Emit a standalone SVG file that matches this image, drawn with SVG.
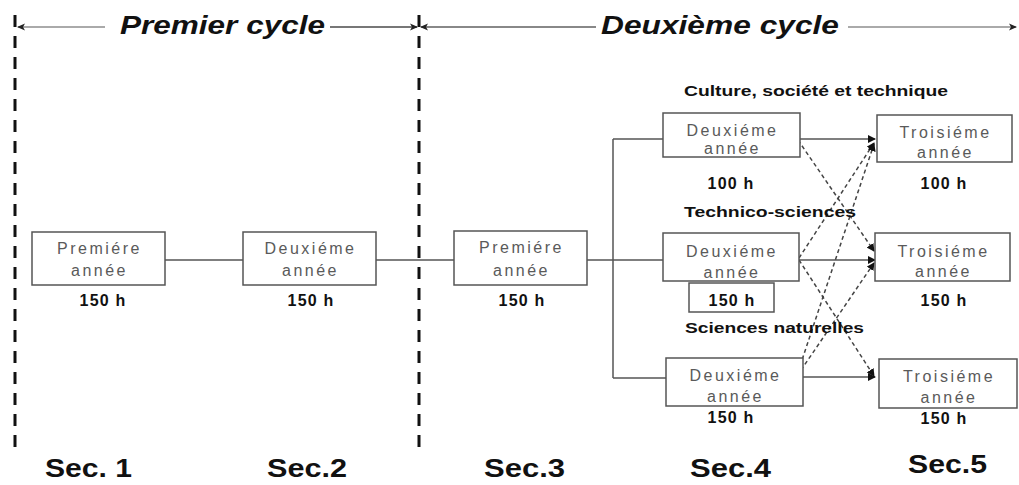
<svg xmlns="http://www.w3.org/2000/svg" width="1019" height="485" viewBox="0 0 1019 485">
<defs>
<style>
.box{fill:#fff;stroke:#555;stroke-width:1.5}
.bt{font-family:"Liberation Sans",Arial,sans-serif;font-size:16px;fill:#5a5a5a;letter-spacing:2.5px;text-anchor:middle}
.hrs{font-family:"Liberation Sans",Arial,sans-serif;font-size:16px;font-weight:bold;fill:#111;letter-spacing:1.2px;text-anchor:middle}
.lbl{font-family:"Liberation Sans",Arial,sans-serif;font-size:15px;font-weight:bold;fill:#111}
.sec{font-family:"Liberation Sans",Arial,sans-serif;font-size:25px;font-weight:bold;fill:#111}
.ttl{font-family:"Liberation Sans",Arial,sans-serif;font-size:25px;font-weight:bold;font-style:italic;fill:#111}
.ln{fill:none;stroke:#555;stroke-width:1.5}
.dash{fill:none;stroke:#444;stroke-width:1.5;stroke-dasharray:4 3}
.vdash{fill:none;stroke:#111;stroke-width:3;stroke-dasharray:12 9}
</style>
<marker id="ah" markerWidth="8" markerHeight="8" refX="7" refY="4" orient="auto" markerUnits="userSpaceOnUse">
<path d="M0,0 L8,4 L0,8 Z" fill="#111"/>
</marker>
<marker id="ta" markerWidth="8" markerHeight="8" refX="7" refY="4" orient="auto" markerUnits="userSpaceOnUse">
<path d="M0,0.5 L8,4 L0,7.5 L2,4 Z" fill="#222"/>
</marker>
</defs>
<rect width="1019" height="485" fill="#fff"/>

<g id="dividers">
<line class="vdash" x1="15" y1="15" x2="15" y2="450"/>
<line class="vdash" x1="419" y1="15" x2="419" y2="450"/>
</g>

<g id="titles">
<line x1="105" y1="27" x2="18" y2="27" stroke="#aaa" stroke-width="2" marker-end="url(#ta)"/>
<text class="ttl" x="120" y="34" textLength="205" lengthAdjust="spacingAndGlyphs">Premier cycle</text>
<line x1="330" y1="27" x2="417" y2="27" stroke="#777" stroke-width="2" marker-end="url(#ta)"/>
<line x1="596" y1="27" x2="421" y2="27" stroke="#888" stroke-width="2" marker-end="url(#ta)"/>
<text class="ttl" x="601" y="34" textLength="238" lengthAdjust="spacingAndGlyphs">Deuxième cycle</text>
<line x1="848" y1="27" x2="1016" y2="27" stroke="#aaa" stroke-width="2" marker-end="url(#ta)"/>
</g>

<g id="connectors">
<line class="ln" x1="165" y1="260" x2="243" y2="260"/>
<line class="ln" x1="376" y1="260" x2="454" y2="260"/>
<line class="ln" x1="587" y1="260" x2="613" y2="260"/>
<line class="ln" x1="613" y1="139" x2="613" y2="378"/>
<line class="ln" x1="613" y1="139" x2="663" y2="139"/>
<line class="ln" x1="613" y1="260" x2="663" y2="260"/>
<line class="ln" x1="613" y1="378" x2="666" y2="378"/>
<line class="ln" x1="800" y1="139" x2="875" y2="139" marker-end="url(#ah)"/>
<line class="ln" x1="799" y1="260" x2="875" y2="260" marker-end="url(#ah)"/>
<line class="ln" x1="803" y1="377" x2="875" y2="377" marker-end="url(#ah)"/>
<line class="dash" x1="798" y1="140" x2="874" y2="251" marker-end="url(#ah)"/>
<line class="dash" x1="799" y1="258" x2="874" y2="143" marker-end="url(#ah)"/>
<line class="dash" x1="799" y1="260" x2="874" y2="376" marker-end="url(#ah)"/>
<line class="dash" x1="800" y1="366" x2="874" y2="144" marker-end="url(#ah)"/>
<line class="dash" x1="797" y1="376" x2="874" y2="263" marker-end="url(#ah)"/>
</g>

<g id="s1">
<rect class="box" x="32" y="232" width="133" height="53"/>
<text class="bt" x="99.5" y="254">Premiére</text>
<text class="bt" x="99.5" y="276">année</text>
<text class="hrs" x="103" y="306">150 h</text>
</g>
<g id="s2">
<rect class="box" x="243" y="232" width="133" height="53"/>
<text class="bt" x="310.5" y="254">Deuxiéme</text>
<text class="bt" x="310.5" y="276">année</text>
<text class="hrs" x="311" y="306">150 h</text>
</g>
<g id="s3">
<rect class="box" x="454" y="231" width="133" height="54"/>
<text class="bt" x="521.5" y="253">Premiére</text>
<text class="bt" x="521.5" y="276">année</text>
<text class="hrs" x="522" y="306">150 h</text>
</g>

<g id="lbl-cst"><text class="lbl" x="684" y="96" textLength="264" lengthAdjust="spacingAndGlyphs">Culture, société et technique</text></g>
<g id="lbl-ts"><text class="lbl" x="684" y="217" textLength="172" lengthAdjust="spacingAndGlyphs">Technico-sciences</text></g>
<g id="lbl-sn"><text class="lbl" x="685" y="333" textLength="179" lengthAdjust="spacingAndGlyphs">Sciences naturelles</text></g>

<g id="s4a">
<rect class="box" x="663" y="113" width="137" height="44"/>
<text class="bt" x="732.5" y="136">Deuxiéme</text>
<text class="bt" x="732.5" y="154">année</text>
<text class="hrs" x="731" y="189">100 h</text>
</g>
<g id="s4b">
<rect class="box" x="663" y="233" width="136" height="48"/>
<text class="bt" x="732" y="257">Deuxiéme</text>
<text class="bt" x="732" y="278">année</text>
<rect class="box" x="689" y="283" width="85" height="29"/>
<text class="hrs" x="732" y="306">150 h</text>
</g>
<g id="s4c">
<rect class="box" x="666" y="358" width="137" height="48"/>
<text class="bt" x="735.5" y="381">Deuxiéme</text>
<text class="bt" x="735.5" y="402">année</text>
<text class="hrs" x="731" y="423">150 h</text>
</g>

<g id="s5a">
<rect class="box" x="877" y="115" width="135" height="47"/>
<text class="bt" x="945.5" y="138">Troisiéme</text>
<text class="bt" x="945.5" y="158">année</text>
<text class="hrs" x="944" y="189">100 h</text>
</g>
<g id="s5b">
<rect class="box" x="875" y="233" width="135" height="48"/>
<text class="bt" x="943.5" y="257">Troisiéme</text>
<text class="bt" x="943.5" y="277">année</text>
<text class="hrs" x="944" y="306">150 h</text>
</g>
<g id="s5c">
<rect class="box" x="879" y="359" width="138" height="49"/>
<text class="bt" x="949" y="382">Troisiéme</text>
<text class="bt" x="949" y="403">année</text>
<text class="hrs" x="944" y="424">150 h</text>
</g>

<g id="sections">
<text class="sec" x="45" y="477" textLength="87" lengthAdjust="spacingAndGlyphs">Sec. 1</text>
<text class="sec" x="267" y="477" textLength="80" lengthAdjust="spacingAndGlyphs">Sec.2</text>
<text class="sec" x="484" y="477" textLength="81" lengthAdjust="spacingAndGlyphs">Sec.3</text>
<text class="sec" x="690" y="477" textLength="81" lengthAdjust="spacingAndGlyphs">Sec.4</text>
<text class="sec" x="908" y="473" textLength="79" lengthAdjust="spacingAndGlyphs">Sec.5</text>
</g>
</svg>
